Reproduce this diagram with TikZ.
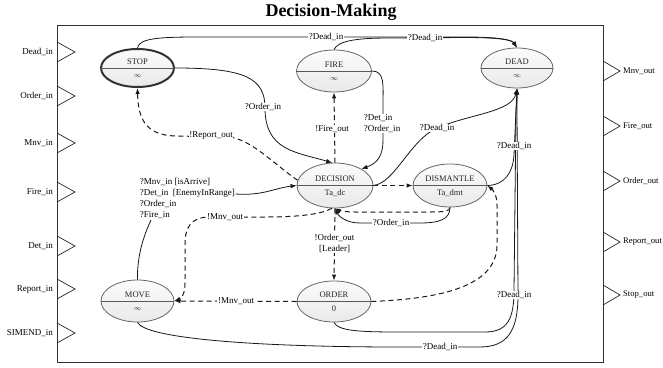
\documentclass[tikz,border=0pt]{standalone}
\usepackage{fontspec}
\setmainfont{Liberation Serif}
\usetikzlibrary{shapes.geometric,arrows.meta}
\newcommand{\mkstate}[8]{%
  \node[stateell, minimum width=#4pt, minimum height=#5pt, #8] (#1) at (#2,#3) {};
  \draw[black!65, line width=0.8pt] (#1.west) -- (#1.east);
  \node[stname] (#1-t) at ([yshift=6.5pt]#1.center) {#6};
  \node[stname] (#1-v) at ([yshift=-7.5pt]#1.center) {#7};
}
\begin{document}
\begin{tikzpicture}[x=1pt,y=-1pt,
  stateell/.style={ellipse, draw=black!60, line width=0.8pt, top color=gray!3, bottom color=gray!17, inner sep=0pt},
  stname/.style={font=\fontsize{8.5}{9}\selectfont, text=black!85, inner sep=0pt},
  conn/.style={line width=0.8pt, black!90},
  dconn/.style={line width=1pt, black!90, dash pattern=on 5pt off 3.5pt},
  arr/.style={-{Latex[length=6pt,width=4.5pt]}},
  lbl/.style={font=\fontsize{9}{11}\selectfont, fill=white, inner sep=0.6pt},
  myport/.style={line width=0.7pt, black!85},
  plbl/.style={font=\fontsize{9}{11}\selectfont, inner sep=0pt}
]
\useasboundingbox (0,0) rectangle (663,367);
\fill[white] (0,0) rectangle (663,367);

% title and frame
\node[font=\bfseries\fontsize{18}{20}\selectfont] (title) at (331,12) {Decision-Making};
\draw[line width=1pt, black!80] (57,25) rectangle (603,362);

% ports
\foreach \y/\t/\n in {52/Dead\_in/a, 96/Order\_in/b, 143/Mnv\_in/c, 192/Fire\_in/d, 246/Det\_in/e, 289/Report\_in/f, 333/SIMEND\_in/g}{
  \draw[myport] (57,\y-10) -- (75,\y) -- (57,\y+10);
  \node[plbl, anchor=east] (in-\n) at (53,\y) {\t};
}
\foreach \y/\t/\n in {71/Mnv\_out/a, 126/Fire\_out/b, 181/Order\_out/c, 242/Report\_out/d, 295/Stop\_out/e}{
  \draw[myport] (603,\y-10) -- (620,\y) -- (603,\y+10);
  \node[plbl, anchor=west, font=\fontsize{8.6}{10}\selectfont] (out-\n) at (623,\y) {\t};
}

% states
\mkstate{STOP}{137.5}{68}{73}{38}{STOP}{{\fontsize{7}{8}\selectfont$\infty$}}{draw=black!80, line width=2pt}
\mkstate{FIRE}{334}{71}{75}{42}{FIRE}{{\fontsize{7}{8}\selectfont$\infty$}}{}
\mkstate{DEAD}{517}{68}{72}{40}{DEAD}{{\fontsize{7}{8}\selectfont$\infty$}}{}
\mkstate{DEC}{335}{185.5}{76}{45}{DECISION}{Ta\_dc}{}
\mkstate{DIS}{450}{185.5}{74}{43}{DISMANTLE}{Ta\_dmt}{}
\mkstate{MOVE}{137.5}{301}{73}{42}{MOVE}{{\fontsize{7}{8}\selectfont$\infty$}}{}
\mkstate{ORD}{334}{301.5}{74}{41}{ORDER}{0}{}

% top ?Dead_in lines
\draw[conn,arr] (STOP.north) .. controls (139,38) and (160,37) .. (200,37) -- (465,37) .. controls (500,37) and (512,40) .. (DEAD.north);
\draw[conn,arr] (FIRE.north) .. controls (338,41) and (355,38) .. (390,38) -- (465,37.5) .. controls (500,37.5) and (512,40) .. (DEAD.north);

% STOP -> DECISION
\draw[conn,arr] (STOP.east) .. controls (245,68) and (265,78) .. (265,108) .. controls (265,150) and (295,152) .. (DEC.97);
% DECISION -> STOP
\draw[dconn,arr] (DEC.172) .. controls (275,165) and (250,138) .. (228,137) -- (175,136) .. controls (145,135) and (138,118) .. (STOP.south);
% DECISION -> FIRE
\draw[dconn,arr] (DEC.north) -- (FIRE.south);
% FIRE -> DECISION
\draw[conn,arr] (FIRE.east) .. controls (385,71) and (383,85) .. (383,105) -- (383,140) .. controls (383,155) and (378,163) .. (DEC.32);
% DECISION -> DEAD
\draw[conn,arr] (DEC.east) .. controls (395,183) and (410,140) .. (437,128) .. controls (470,114) and (512,112) .. (DEAD.south);
% DISMANTLE -> DEAD
\draw[conn,arr] (DIS.east) .. controls (505,185) and (513,172) .. (514,155) -- (516,110) .. controls (516.5,100) .. (DEAD.south);
% ORDER -> DEAD
\draw[conn,arr] (ORD.south) .. controls (338,331) and (360,332) .. (400,332) -- (485,332) .. controls (508,332) and (514,318) .. (514,290) -- (516,110) .. controls (517,100) .. (DEAD.south);
% MOVE -> DEAD
\draw[conn,arr] (MOVE.south) .. controls (145,338) and (250,347) .. (400,347) -- (480,347) .. controls (508,347) and (518,330) .. (518,295) -- (517,110) .. controls (517,100) .. (DEAD.south);

% MOVE -> DECISION via guard label
\node[lbl, fill=none, anchor=north west, align=left] (mvlbl) at (139,177) {?Mnv\_in [isArrive]\\?Det\_in~~[EnemyInRange]\\?Order\_in\\?Fire\_in};
\draw[conn] (MOVE.north) .. controls (137,255) and (144,235) .. ([xshift=12pt,yshift=-1pt]mvlbl.south west);
\draw[conn,arr] ([yshift=4pt]mvlbl.east) .. controls (262,196) and (275,188) .. (DEC.west);

% DECISION -> MOVE
\draw[dconn,arr] (DEC.262) .. controls (322,214) and (300,217) .. (265,217) -- (210,217) .. controls (190,217) and (185,228) .. (185,245) -- (185,283) .. controls (185,293) and (182,298) .. (MOVE.east);
% ORDER -> MOVE
\draw[dconn,arr] (ORD.west) -- (MOVE.east);
% ORDER -> DISMANTLE
\draw[dconn,arr] (ORD.east) .. controls (430,299) and (497,290) .. (497,245) -- (497,205) .. controls (497,195) and (493,190) .. (DIS.east);
% DECISION -> DISMANTLE
\draw[dconn,arr] (DEC.east) -- (DIS.west);
% DISMANTLE -> DECISION (dashed)
\draw[dconn,arr] (DIS.south) .. controls (450,211) and (445,212) .. (430,212) -- (355,212) .. controls (343,212) and (338,210) .. (DEC.south);
% DISMANTLE -> DECISION ?Order_in
\draw[conn,arr] (DIS.south) .. controls (450,219) and (440,223) .. (420,223) -- (360,223) .. controls (345,223) and (338,215) .. (DEC.south);
% DECISION -> ORDER
\draw[dconn,arr] (DEC.south) -- (ORD.north);

% labels
\node[lbl] (l1) at (326,37) {?Dead\_in};
\node[lbl] (l2) at (425,37.5) {?Dead\_in};
\node[lbl] (l3) at (263,107) {?Order\_in};
\node[lbl] (l4) at (211,136) {!Report\_out};
\node[lbl] (l5) at (332,129) {!Fire\_out};
\node[lbl, align=left] (l6) at (382,123.5) {?Det\_in\\?Order\_in};
\node[lbl] (l7) at (437,128) {?Dead\_in};
\node[lbl] (l8) at (514,146) {?Dead\_in};
\node[lbl] (l9) at (514,295) {?Dead\_in};
\node[lbl] (l10) at (440,347) {?Dead\_in};
\node[lbl] (l11) at (225,217) {!Mnv\_out};
\node[lbl] (l12) at (236,301) {!Mnv\_out};
\node[lbl] (l13) at (391,223) {?Order\_in};
\node[lbl, align=center] (l14) at (334.5,243) {!Order\_out\\\relax[Leader]};
\end{tikzpicture}
\end{document}
